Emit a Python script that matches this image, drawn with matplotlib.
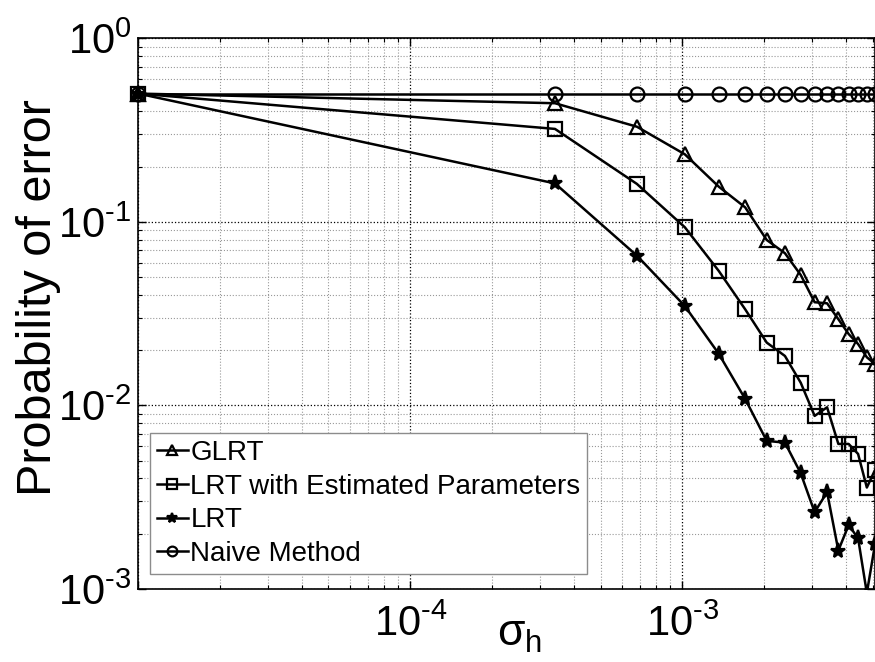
import numpy as np
import matplotlib.pyplot as plt
from matplotlib.transforms import Bbox, TransformedBbox

plt.rcParams['font.family'] = ['Liberation Sans', 'DejaVu Sans']
plt.rcParams['mathtext.fontset'] = 'custom'
plt.rcParams['mathtext.rm'] = 'Liberation Sans'
plt.rcParams['mathtext.it'] = 'Liberation Sans'

# sigma_h values (x) and probability of error per method
sigma_h = [1e-5, 3.4e-4, 6.8e-4, 1.02e-3, 1.36e-3, 1.7e-3, 2.04e-3, 2.38e-3,
           2.72e-3, 3.06e-3, 3.4e-3, 3.74e-3, 4.08e-3, 4.42e-3, 4.76e-3, 5.1e-3]
glrt = [0.5, 0.443, 0.330, 0.2335, 0.1555, 0.120, 0.0797, 0.0675,
        0.0514, 0.0365, 0.036, 0.0295, 0.0245, 0.0216, 0.0183, 0.0168]
lrt_est = [0.5, 0.321, 0.161, 0.0935, 0.054, 0.0334, 0.022, 0.0186,
           0.0133, 0.00877, 0.00977, 0.00617, 0.00617, 0.00544, 0.00357, 0.00445]
lrt = [0.5, 0.162, 0.0655, 0.0348, 0.0191, 0.01085, 0.00641, 0.00627,
       0.00427, 0.00262, 0.00337, 0.00162, 0.00223, 0.00189, 0.00095, 0.00175]
naive = [0.5] * 16

labels = ['GLRT', 'LRT with Estimated Parameters', 'LRT', 'Naive Method']
x_ticks = [1e-5, 1e-4, 1e-3]
x_ticklabels = ['', '$10^{\u2010' + '4}$', '$10^{\u2010' + '3}$']
y_ticks = [1e-3, 1e-2, 1e-1, 1]
y_ticklabels = ['$10^{\u2010' + '3}$', '$10^{\u2010' + '2}$', '$10^{\u2010' + '1}$', '$10^{0}$']

fig = plt.figure(figsize=(8.75, 6.62), dpi=100)
ax = fig.add_axes([0.158, 0.1103, 0.842, 0.8318])
ax.set_xscale('log')
ax.set_yscale('log')

# clip to the axes except a little room on the left so the first markers show whole
clip = TransformedBbox(Bbox([[-0.03, 0.0], [1.03, 1.03]]), ax.transAxes)

styles = [('^', 'none'), ('s', 'none'), ('*', 'k'), ('o', 'none')]
for vals, (m, fc), lab in zip([glrt, lrt_est, lrt, naive], styles, labels):
    line, = ax.plot(sigma_h, vals, color='k', lw=1.8, marker=m, ms=10 if m != '*' else 11,
                    mfc=fc, mec='k', mew=1.6, label=lab)
    line.set_clip_box(clip)

ax.set_xlim(1e-5, 5.1e-3)
ax.set_ylim(1e-3, 1)
ax.set_xticks(x_ticks, x_ticklabels)
ax.set_yticks(y_ticks, y_ticklabels)

ax.grid(True, which='major', ls=':', color='k', lw=0.9)
ax.grid(True, which='minor', ls=':', color='0.6', lw=0.8)
ax.set_axisbelow(True)

ax.tick_params(which='both', direction='in', top=True, right=True, labelsize=30)
ax.tick_params(which='major', length=6, width=1)
ax.tick_params(which='minor', length=3, width=0.8)
ax.tick_params(axis='x', pad=11)
ax.tick_params(axis='y', pad=5)
for s in ax.spines.values():
    s.set_linewidth(1.2)

ax.set_ylabel('Probability of error', fontsize=35)
ax.yaxis.set_label_coords(-0.105, 0.53)
ax.set_xlabel(r'$\sigma_h$', fontsize=32)
ax.xaxis.set_label_coords(0.517, -0.045)

ax.legend(loc='lower left', bbox_to_anchor=(0.016, 0.027), fontsize=20,
          handlelength=1.1, handletextpad=0.1, labelspacing=0.28, borderpad=0.25,
          borderaxespad=0, fancybox=False, edgecolor='0.55', framealpha=1,
          markerscale=0.7)

fig.savefig('out.png', dpi=100)
